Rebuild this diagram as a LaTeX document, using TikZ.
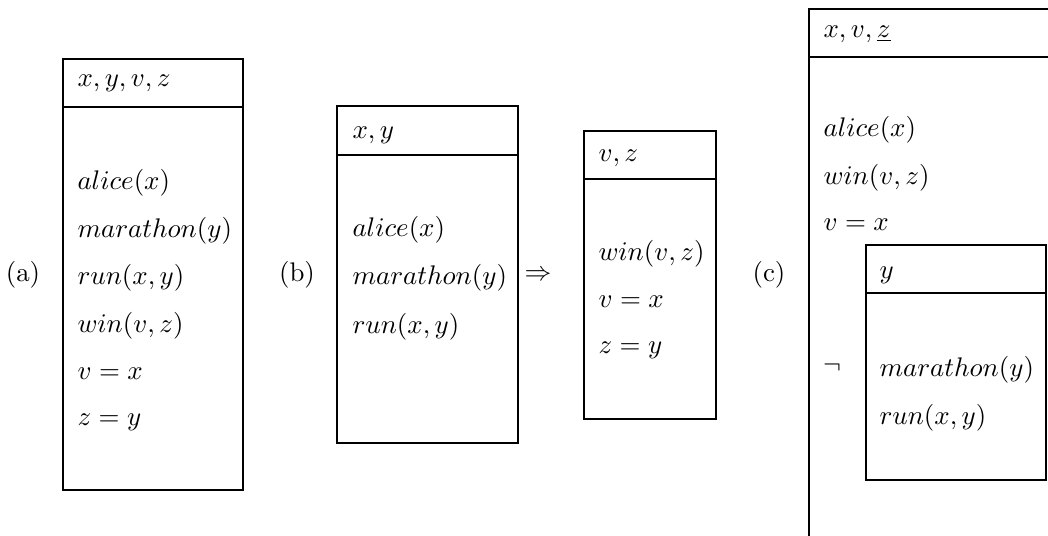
\documentclass[tikz,border=0pt]{standalone}
\begin{document}
\begin{tikzpicture}[x=0.3717pt,y=-0.3717pt,
  txt/.style={anchor=west,inner sep=0pt},
  lbl/.style={inner sep=0pt,font=\rmfamily},
  boxline/.style={draw,line width=0.45pt}]
\useasboundingbox (0,0) rectangle (1048,535);
\clip (0,0) rectangle (1048,535);
% (a)
\node[lbl] (la) at (23,275) {(a)};
\draw[boxline] (63,59) rectangle (243,490);
\draw[boxline] (63,107) -- (243,107);
\node[txt] (a0) at (77,83) {$x,y,v,z$};
\node[txt] (a1) at (77,183) {$alice(x)$};
\node[txt] (a2) at (77,231) {$marathon(y)$};
\node[txt] (a3) at (77,278) {$run(x,y)$};
\node[txt] (a4) at (77,326) {$win(v,z)$};
\node[txt] (a5) at (77,374) {$v=x$};
\node[txt] (a6) at (77,422) {$z=y$};
% (b)
\node[lbl] (lb) at (297,275) {(b)};
\draw[boxline] (337,106) rectangle (518,443);
\draw[boxline] (337,155) -- (518,155);
\node[txt] (b0) at (352,135) {$x,y$};
\node[txt] (b1) at (352,230) {$alice(x)$};
\node[txt] (b2) at (352,278) {$marathon(y)$};
\node[txt] (b3) at (352,327) {$run(x,y)$};
\node[inner sep=0pt] (imp) at (538,276) {$\Rightarrow$};
\draw[boxline] (584,131) rectangle (716,419);
\draw[boxline] (584,179) -- (716,179);
\node[txt] (d0) at (598,158) {$v,z$};
\node[txt] (d1) at (598,254) {$win(v,z)$};
\node[txt] (d2) at (598,302) {$v=x$};
\node[txt] (d3) at (598,350) {$z=y$};
% (c)
\node[lbl] (lc) at (769,275) {(c)};
\draw[boxline] (809,9) rectangle (1070,560);
\draw[boxline] (809,57) -- (1070,57);
\node[txt] (c0) at (823,34) {$x,v,\underline{z}$};
\node[txt] (c1) at (823,130) {$alice(x)$};
\node[txt] (c2) at (823,178) {$win(v,z)$};
\node[txt] (c3) at (823,225) {$v=x$};
\node[inner sep=0pt] (neg) at (832,368) {$\neg$};
\draw[boxline] (866,245) rectangle (1046,480);
\draw[boxline] (866,293) -- (1046,293);
\node[txt] (e0) at (879,275) {$y$};
\node[txt] (e1) at (879,370) {$marathon(y)$};
\node[txt] (e2) at (879,418) {$run(x,y)$};
\end{tikzpicture}
\end{document}
